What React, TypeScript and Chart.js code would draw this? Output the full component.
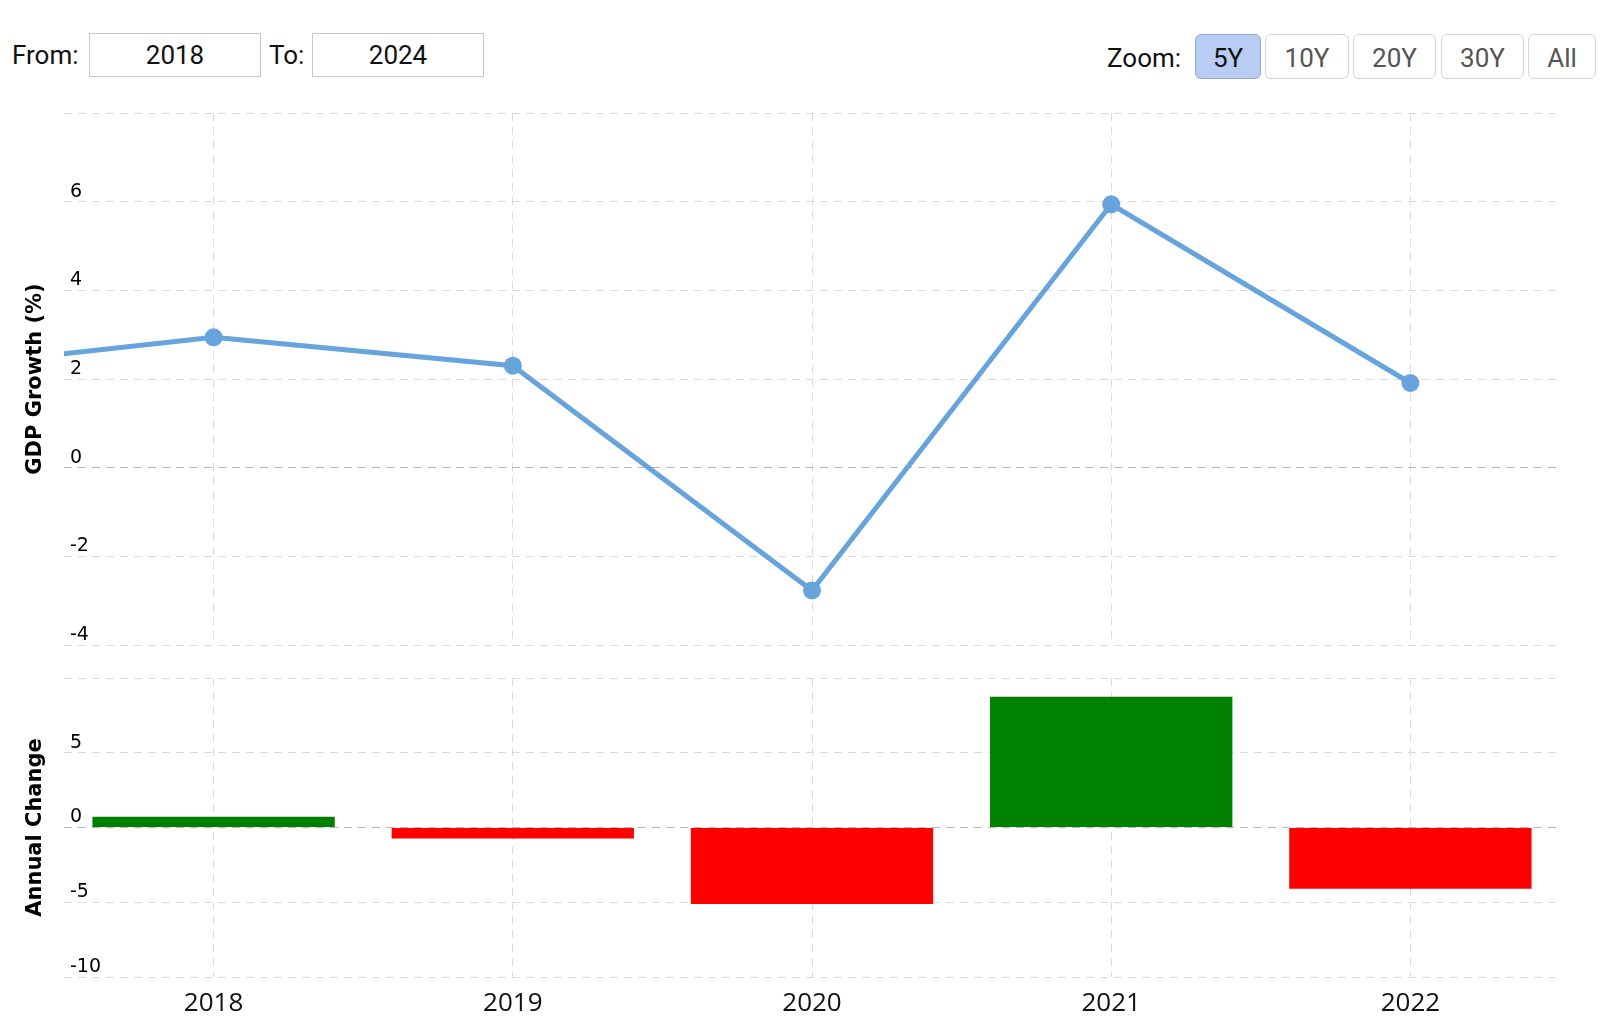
import React, { useEffect, useRef } from "react";
import { Chart, registerables } from "chart.js";

Chart.register(...registerables);

// ---------- data ----------
const lineYears = [2017, 2018, 2019, 2020, 2021, 2022];
const gdpGrowth = [2.2, 2.94, 2.3, -2.77, 5.94, 1.91];
const barYears = [2018, 2019, 2020, 2021, 2022];
const annualChange = [0.72, -0.73, -5.12, 8.74, -4.1];
const xTickYears = [2018, 2019, 2020, 2021, 2022];
const zoomButtons = ["5Y", "10Y", "20Y", "30Y", "All"];
const fromYear = "2018";
const toYear = "2024";

// ---------- style ----------
const X_MIN = 2017.5;
const X_MAX = 2022.5;
const GRID = "#dadada";
const ZERO = "#b8b8b8";
const LINE = "#67a3dc";
const GREEN = "#008000";
const RED = "#ff0000";
const DASH = [8, 6];
const TICK_FONT = { family: "'DejaVu Sans', Verdana, sans-serif", size: 19 };
const TITLE_FONT = { family: "'DejaVu Sans', Verdana, sans-serif", size: 21, weight: "bold" as const };

function xScale(showLabels: boolean) {
  return {
    type: "linear" as const,
    min: X_MIN,
    max: X_MAX,
    offset: false,
    afterBuildTicks: (s: any) => {
      s.ticks = xTickYears.map((v) => ({ value: v }));
    },
    afterFit: (s: any) => {
      s.height = showLabels ? 44 : 0;
    },
    grid: { color: GRID, lineWidth: 1, drawTicks: false, offset: false },
    border: { display: false, dash: DASH },
    ticks: {
      display: showLabels,
      autoSkip: false,
      maxRotation: 0,
      padding: 11,
      color: "#111",
      font: { family: "'Open Sans', sans-serif", size: 26 },
      callback: (v: any) => String(v),
    },
  };
}

function yScale(min: number, max: number, step: number, title: string) {
  return {
    type: "linear" as const,
    min,
    max,
    afterFit: (s: any) => {
      s.width = 64;
    },
    grid: {
      drawTicks: false,
      lineWidth: 1,
      color: (ctx: any) => (ctx.tick && ctx.tick.value === 0 ? ZERO : GRID),
    },
    border: { display: false, dash: DASH },
    ticks: {
      stepSize: step,
      mirror: true,
      padding: 6,
      labelOffset: -10,
      color: "#000",
      font: TICK_FONT,
      callback: (v: any) => (v === max ? "" : String(v)),
    },
    title: {
      display: true,
      text: title,
      color: "#000",
      font: TITLE_FONT,
      padding: { top: 23, bottom: 0 },
    },
  };
}

function GdpCharts() {
  const topRef = useRef<HTMLCanvasElement>(null);
  const botRef = useRef<HTMLCanvasElement>(null);

  useEffect(() => {
    const top = new Chart(topRef.current as HTMLCanvasElement, {
      type: "line",
      data: {
        datasets: [
          {
            data: lineYears.map((x, i) => ({ x, y: gdpGrowth[i] })),
            borderColor: LINE,
            backgroundColor: LINE,
            borderWidth: 5,
            pointRadius: 9,
            pointBorderWidth: 0,
            pointBackgroundColor: LINE,
            tension: 0,
          },
        ],
      },
      options: {
        animation: false,
        responsive: false,
        maintainAspectRatio: false,
        layout: { padding: { top: 20, bottom: 20, left: 0, right: 40 } },
        plugins: { legend: { display: false }, tooltip: { enabled: false } },
        scales: {
          x: xScale(false),
          y: yScale(-4, 8, 2, "GDP Growth (%)"),
        },
      } as any,
    });

    const bot = new Chart(botRef.current as HTMLCanvasElement, {
      type: "bar",
      data: {
        datasets: [
          {
            data: barYears.map((x, i) => ({ x, y: annualChange[i] })),
            backgroundColor: annualChange.map((v) => (v >= 0 ? GREEN : RED)),
            borderWidth: 0,
            barPercentage: 0.81,
            categoryPercentage: 1,
          },
        ],
      },
      options: {
        animation: false,
        responsive: false,
        maintainAspectRatio: false,
        layout: { padding: { top: 20, bottom: 0, left: 0, right: 40 } },
        plugins: { legend: { display: false }, tooltip: { enabled: false } },
        scales: {
          x: xScale(true),
          y: yScale(-10, 10, 5, "Annual Change"),
        },
      } as any,
    });

    return () => {
      top.destroy();
      bot.destroy();
    };
  }, []);

  return (
    <>
      <canvas
        ref={topRef}
        width={1600}
        height={572}
        style={{ position: "absolute", left: 0, top: 93, width: 1600, height: 572 }}
      />
      <canvas
        ref={botRef}
        width={1600}
        height={363}
        style={{ position: "absolute", left: 0, top: 658, width: 1600, height: 363 }}
      />
    </>
  );
}

const UI_FONT = "Roboto, 'Noto Sans', sans-serif";

export default function App() {
  const boxStyle = (left: number): React.CSSProperties => ({
    position: "absolute",
    left,
    top: 33,
    width: 172,
    height: 44,
    boxSizing: "border-box",
    border: "1px solid #c8c8c8",
    display: "flex",
    alignItems: "center",
    justifyContent: "center",
    fontFamily: UI_FONT,
    fontSize: 26,
    color: "#111",
  });
  const btnLefts = [1195, 1265, 1353, 1441, 1528];
  const btnWidths = [66, 84, 83, 83, 68];
  return (
    <div
      style={{
        position: "fixed",
        left: 0,
        top: 0,
        width: 1600,
        height: 1020,
        background: "#fff",
        overflow: "hidden",
      }}
    >
      <div
        style={{
          position: "absolute",
          left: 12,
          top: 33,
          height: 44,
          lineHeight: "44px",
          fontFamily: UI_FONT,
          fontSize: 26,
          color: "#111",
        }}
      >
        From:
      </div>
      <div style={boxStyle(89)}>{fromYear}</div>
      <div
        style={{
          position: "absolute",
          left: 269,
          top: 33,
          height: 44,
          lineHeight: "44px",
          fontFamily: UI_FONT,
          fontSize: 26,
          color: "#111",
        }}
      >
        To:
      </div>
      <div style={boxStyle(312)}>{toYear}</div>

      <div
        style={{
          position: "absolute",
          left: 1107,
          top: 36,
          height: 45,
          lineHeight: "45px",
          fontFamily: UI_FONT,
          fontSize: 26,
          color: "#111",
        }}
      >
        Zoom:
      </div>
      {zoomButtons.map((b, i) => (
        <div
          key={b}
          style={{
            position: "absolute",
            left: btnLefts[i],
            top: 34,
            width: btnWidths[i],
            height: 45,
            boxSizing: "border-box",
            borderRadius: 6,
            paddingTop: 3,
            border: i === 0 ? "1px solid #8ea6d8" : "1px solid #d4d4d4",
            background: i === 0 ? "#b8ccf4" : "#fff",
            display: "flex",
            alignItems: "center",
            justifyContent: "center",
            fontFamily: UI_FONT,
            fontSize: 26,
            color: i === 0 ? "#111" : "#555",
          }}
        >
          {b}
        </div>
      ))}

      <GdpCharts />
    </div>
  );
}
